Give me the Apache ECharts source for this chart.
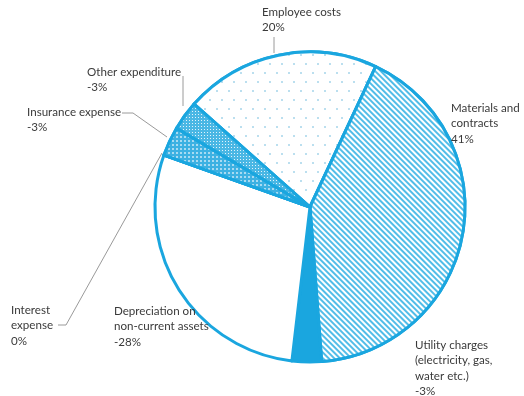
<!DOCTYPE html>
<html>
<head>
<meta charset="utf-8">
<script src="https://cdn.jsdelivr.net/npm/echarts@6/dist/echarts.min.js"></script>
<style>
html,body{margin:0;padding:0;background:#fff;}
#chart{width:524px;height:396px;}
</style>
</head>
<body>
<div id="chart"></div>
<script>
// ---- data ----
var categories = ['Employee costs', 'Materials and contracts', 'Utility charges (electricity, gas, water etc.)',
  'Depreciation on non-current assets', 'Interest expense', 'Insurance expense', 'Other expenditure'];
var labelNames = ['Employee costs', 'Materials and\ncontracts', 'Utility charges\n(electricity, gas,\nwater etc.)',
  'Depreciation on\nnon-current assets', 'Interest\nexpense', 'Insurance expense', 'Other expenditure'];
var values = [20, 41, 3, 28, 0, 3, 3];
var valueLabels = ['20%', '41%', '-3%', '-28%', '0%', '-3%', '-3%'];

// ---- layout / styles ----
var BLUE = '#1aa6df';
var labelPos = [
  [262, 4], [451, 100], [415, 337], [114, 303], [11, 302], [27, 104], [87, 64]
];
var linePts = [
  [[274, 37], [274, 44], [274, 53]],
  null,
  null,
  null,
  [[58, 325], [66, 325], [162, 153]],
  [[122, 113], [133, 113], [167, 137]],
  [[183, 76], [183, 90], [183, 106]]
];
var decals = [
  { symbol: 'circle', symbolSize: 1, dashArrayX: [[0, 5, 2, 5], [2, 10]], dashArrayY: [2, 7], color: '#a4d4ea', backgroundColor: '#ffffff' },
  { symbol: 'rect', symbolSize: 1, dashArrayX: [1, 0], dashArrayY: [1.6, 1.6], rotation: Math.PI / 4, color: '#52bde8', backgroundColor: '#ffffff' },
  null,
  null,
  null,
  { symbol: 'circle', symbolSize: 1, dashArrayX: [1.5, 2], dashArrayY: [1.5, 2], color: '#cdeaf7', backgroundColor: '#3db1e2' },
  { symbol: 'rect', symbolSize: 1, dashArrayX: [1, 2], dashArrayY: [1, 2], color: '#e2f3fb', backgroundColor: '#4ab7e4' }
];
var fills = ['#ffffff', '#ffffff', BLUE, '#ffffff', '#ffffff', '#3db1e2', '#4ab7e4'];

var seriesData = categories.map(function (c, i) {
  var it = {
    name: c,
    value: values[i],
    itemStyle: { color: fills[i] },
    label: { formatter: labelNames[i] + '\n' + valueLabels[i] },
    labelLine: { show: !!linePts[i] }
  };
  if (decals[i]) it.itemStyle.decal = decals[i];
  return it;
});

var chart = echarts.init(document.getElementById('chart'), null, { renderer: 'canvas' });
chart.setOption({
  animation: false,
  backgroundColor: '#ffffff',
  series: [{
    type: 'pie',
    center: [310, 207],
    radius: 155,
    startAngle: 138.4,
    clockwise: true,
    avoidLabelOverlap: false,
    itemStyle: { borderColor: BLUE, borderWidth: 3 },
    label: {
      show: true,
      position: 'outside',
      fontFamily: 'Lato',
      fontSize: 11.6,
      lineHeight: 15.5,
      color: '#3a3a3a',
      align: 'left'
    },
    labelLine: {
      show: true,
      length: 10,
      length2: 10,
      smooth: false,
      lineStyle: { color: '#9a9a9a', width: 1 }
    },
    labelLayout: function (p) {
      var i = p.dataIndex;
      var pos = labelPos[i];
      var o = { x: pos[0], y: pos[1], align: 'left', verticalAlign: 'top', moveOverlap: null, hideOverlap: false };
      if (linePts[i]) o.labelLinePoints = linePts[i];
      return o;
    },
    data: seriesData
  }]
});
</script>
</body>
</html>
